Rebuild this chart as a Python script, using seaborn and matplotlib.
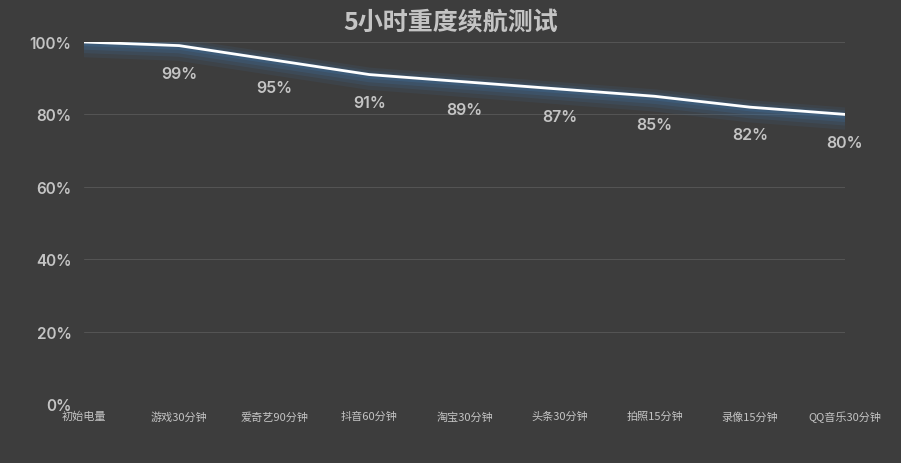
import matplotlib
matplotlib.use("Agg")
import matplotlib.pyplot as plt
import matplotlib.patheffects as pe
import seaborn as sns
import pandas as pd

# test steps and remaining battery (%)
steps = ["初始电量", "游戏30分钟", "爱奇艺90分钟", "抖音60分钟", "淘宝30分钟",
         "头条30分钟", "拍照15分钟", "录像15分钟", "QQ音乐30分钟"]
battery = [100, 99, 95, 91, 89, 87, 85, 82, 80]
y_ticks = [0, 20, 40, 60, 80, 100]

bg = "#3d3d3d"
txt = "#c4c4c4"

sns.set_theme(style="dark")
plt.rcParams["font.family"] = ["Noto Sans CJK SC", "DejaVu Sans"]
num_font = ["Inter", "DejaVu Sans"]

df = pd.DataFrame({"step": range(len(steps)), "battery": battery})

fig = plt.figure(figsize=(9.01, 4.64), dpi=100, facecolor=bg)
ax = fig.add_axes([84 / 901, 1 - 405 / 464, (845 - 84) / 901, (405 - 43) / 464])
ax.set_facecolor(bg)

glow = "#3e6a94"
sns.lineplot(data=df, x="step", y="battery", ax=ax, color="white", linewidth=2,
             path_effects=[
                 pe.SimpleLineShadow(offset=(0, -3), shadow_color=glow, alpha=0.14, linewidth=16),
                 pe.SimpleLineShadow(offset=(0, -2.5), shadow_color=glow, alpha=0.2, linewidth=11),
                 pe.SimpleLineShadow(offset=(0, -2), shadow_color=glow, alpha=0.28, linewidth=7),
                 pe.SimpleLineShadow(offset=(0, -1), shadow_color=glow, alpha=0.4, linewidth=4),
                 pe.Normal()])

for i, v in enumerate(battery[1:], start=1):
    ax.annotate(f"{v}%", (i, v), xytext=(0, -20), textcoords="offset points",
                ha="center", va="center", color=txt, fontsize=11.5, fontweight="semibold",
                family=num_font)

ax.set_xlim(0, len(steps) - 1)
ax.set_ylim(0, 100)
ax.set_yticks(y_ticks)
ax.set_yticklabels([f"{t}%" for t in y_ticks], color=txt, fontsize=11, fontweight="semibold",
                   family=num_font)
ax.set_xticks(range(len(steps)))
ax.set_xticklabels(steps, color=txt, fontsize=8)
ax.tick_params(axis="y", length=0, pad=9)
ax.tick_params(axis="x", length=0, pad=5)
ax.grid(axis="y", color="#555555", linewidth=0.7)
ax.grid(axis="x", visible=False)
for s in ax.spines.values():
    s.set_visible(False)
ax.set_xlabel("")
ax.set_ylabel("")

fig.text(0.5, 1 - 22 / 464, "5小时重度续航测试", ha="center", va="center",
         color=txt, fontsize=18, fontweight="bold")

fig.savefig("out.png", dpi=100, facecolor=bg)
